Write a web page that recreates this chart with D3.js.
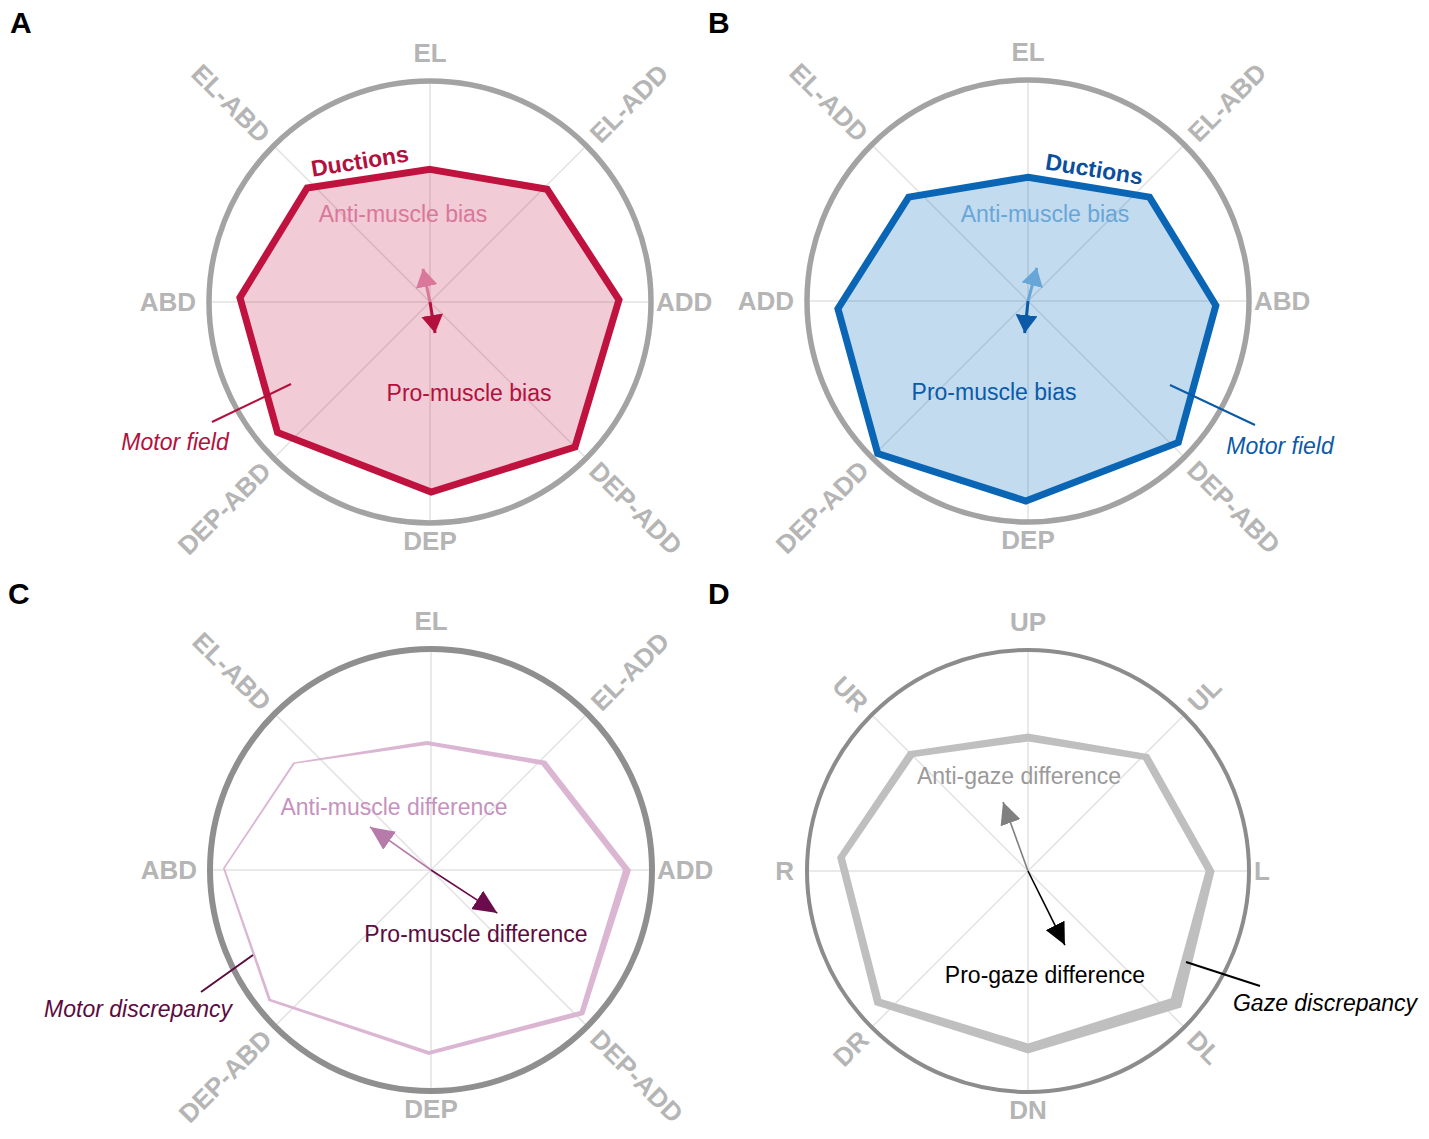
<!DOCTYPE html>
<html>
<head>
<meta charset="utf-8">
<script src="https://cdn.jsdelivr.net/npm/d3@7"></script>
<style>
  body { margin: 0; background: #fff; }
  svg { display: block; }
  text { font-family: "Liberation Sans", Arial, Helvetica, sans-serif; }
</style>
</head>
<body>
<div id="chart"></div>
<script>
// direction labels, clockwise from the top spoke
const dirsA = ["EL", "EL-ADD", "ADD", "DEP-ADD", "DEP", "DEP-ABD", "ABD", "EL-ABD"];
const dirsB = ["EL", "EL-ABD", "ABD", "DEP-ABD", "DEP", "DEP-ADD", "ADD", "EL-ADD"];
const dirsC = ["EL", "EL-ADD", "ADD", "DEP-ADD", "DEP", "DEP-ABD", "ABD", "EL-ABD"];
const dirsD = ["UP", "UL", "L", "DL", "DN", "DR", "R", "UR"];

// polygon vertices [x, y] in units of the outer ring radius (y up), same order as the labels
const ductionsA = [[0.00, 0.60], [0.53, 0.51], [0.855, 0.01], [0.656, -0.656],
                   [0.005, -0.86], [-0.69, -0.59], [-0.86, 0.02], [-0.556, 0.516]];
const ductionsB = [[0.00, 0.56], [0.55, 0.47], [0.85, -0.02], [0.68, -0.64],
                   [-0.01, -0.905], [-0.68, -0.69], [-0.86, -0.035], [-0.54, 0.47]];
const discrepancyC = [[-0.018, 0.575], [0.51, 0.485], [0.887, 0.0], [0.683, -0.647],
                      [-0.01, -0.828], [-0.73, -0.588], [-0.937, 0.008], [-0.62, 0.484]];
const discrepancyD = [[0.0, 0.604], [0.534, 0.516], [0.824, 0.0], [0.67, -0.597],
                      [0.0, -0.803], [-0.679, -0.593], [-0.846, 0.061], [-0.529, 0.529]];
// band thickness at each vertex (px)
const spreadC = [4, 6, 8, 6, 4, 3, 2, 2];
const spreadD = [8, 8, 9, 14, 10, 9, 8, 8];

// bias / difference vectors [x, y], ring radius units
const antiA = [-0.032, 0.15], proA = [0.023, -0.14];
const antiB = [0.04, 0.15],   proB = [-0.015, -0.145];
const antiC = [-0.276, 0.195], proC = [0.30, -0.195];
const antiD = [-0.113, 0.312], proD = [0.167, -0.335];

const W = 1429, H = 1139, R = 221;

const panels = [
  { key: "A", cx: 430, cy: 302, letter: [10, 33], dirs: dirsA, ring: "#a3a3a3", ringW: 5.5,
    pts: ductionsA, anti: antiA, pro: proA, line: "#bf123f", fill: "rgba(191,18,63,0.22)",
    antiColor: "#d9789b", proColor: "#b3103d", head: [18, 22], arrowW: 3,
    notes: [
      { t: "Ductions", x: -69, y: -133, rot: -9, bold: true, c: "#b3103d" },
      { t: "Anti-muscle bias", x: -27, y: -80, c: "#d9789b" },
      { t: "Pro-muscle bias", x: 39, y: 99, c: "#b3103d" },
      { t: "Motor field", x: -255, y: 148, it: true, c: "#b3103d" }],
    leader: [[-218, 120], [-139, 82]], leaderColor: "#b3103d" },
  { key: "B", cx: 1028, cy: 301, letter: [708, 33], dirs: dirsB, ring: "#a3a3a3", ringW: 5.5,
    pts: ductionsB, anti: antiB, pro: proB, line: "#0a66b5", fill: "rgba(10,110,190,0.25)",
    antiColor: "#68a6d8", proColor: "#0b5aa8", head: [18, 22], arrowW: 3,
    notes: [
      { t: "Ductions", x: 65, y: -124, rot: 9, bold: true, c: "#0b4f9c" },
      { t: "Anti-muscle bias", x: 17, y: -79, c: "#68a6d8" },
      { t: "Pro-muscle bias", x: -34, y: 99, c: "#0b5aa8" },
      { t: "Motor field", x: 252, y: 153, it: true, c: "#0b5aa8" }],
    leader: [[142, 84], [227, 124]], leaderColor: "#0b5aa8" },
  { key: "C", cx: 431, cy: 870, letter: [8, 604], dirs: dirsC, ring: "#8f8f8f", ringW: 6,
    band: discrepancyC, spread: spreadC, bandColor: "#dbb6d3",
    anti: antiC, pro: proC, antiColor: "#b67ba9", proColor: "#6a0c4b", head: [24, 22], arrowW: 1.6,
    notes: [
      { t: "Anti-muscle difference", x: -37, y: -55, c: "#c592bd" },
      { t: "Pro-muscle difference", x: 45, y: 72, c: "#5c0b3f" },
      { t: "Motor discrepancy", x: -293, y: 147, it: true, c: "#5c0b3f" }],
    leader: [[-230, 122], [-178, 85]], leaderColor: "#5c0b3f" },
  { key: "D", cx: 1028, cy: 871, letter: [708, 604], dirs: dirsD, ring: "#8c8c8c", ringW: 4,
    band: discrepancyD, spread: spreadD, bandColor: "#bfbfbf",
    anti: antiD, pro: proD, antiColor: "#808080", proColor: "#000", head: [22, 21], arrowW: 1.6,
    notes: [
      { t: "Anti-gaze difference", x: -9, y: -87, c: "#9a9a9a" },
      { t: "Pro-gaze difference", x: 17, y: 112, c: "#000" },
      { t: "Gaze discrepancy", x: 297, y: 140, it: true, c: "#000" }],
    leader: [[158, 91], [232, 115]], leaderColor: "#000" }
];

const svg = d3.select("#chart").append("svg")
  .attr("width", W).attr("height", H);
const defs = svg.append("defs");

const sx = d3.scaleLinear().domain([-1, 1]).range([-R, R]);
const sy = d3.scaleLinear().domain([-1, 1]).range([R, -R]);
const closed = d3.line().curve(d3.curveLinearClosed);

panels.forEach(p => {
  const g = svg.append("g").attr("transform", `translate(${p.cx},${p.cy})`);

  // panel letter
  svg.append("text").attr("x", p.letter[0]).attr("y", p.letter[1])
    .text(p.key).attr("font-size", 30).attr("font-weight", "bold").attr("fill", "#000");

  // spokes
  p.dirs.forEach((d, i) => {
    const a = i * Math.PI / 4;
    g.append("line").attr("x1", 0).attr("y1", 0)
      .attr("x2", R * Math.sin(a)).attr("y2", -R * Math.cos(a))
      .attr("stroke", "#e2e2e2").attr("stroke-width", 1.5);
  });

  // outer ring
  g.append("circle").attr("r", R).attr("fill", "none")
    .attr("stroke", p.ring).attr("stroke-width", p.ringW);

  // direction labels
  p.dirs.forEach((d, i) => {
    const a = i * Math.PI / 4;
    const t = g.append("text").text(d).attr("font-size", 26).attr("font-weight", "bold")
      .attr("fill", "#b5b5b5");
    if (i === 0) t.attr("text-anchor", "middle").attr("y", -R - 19);
    else if (i === 4) t.attr("text-anchor", "middle").attr("y", R + 27);
    else if (i === 2) t.attr("text-anchor", "start").attr("x", R + 5).attr("dy", "0.36em");
    else if (i === 6) t.attr("text-anchor", "end").attr("x", -R - 13).attr("dy", "0.36em");
    else {
      const r = R + 11;
      const x = r * Math.sin(a), y = -r * Math.cos(a);
      const rot = (i === 1 || i === 5) ? -45 : 45;
      t.attr("text-anchor", i < 4 ? "start" : "end").attr("dy", "0.36em")
        .attr("transform", `translate(${x},${y}) rotate(${rot})`);
    }
  });

  // motor field polygon
  if (p.pts) {
    g.append("path")
      .attr("d", closed(p.pts.map(v => [sx(v[0]), sy(v[1])])))
      .attr("fill", p.fill).attr("stroke", p.line).attr("stroke-width", 7)
      .attr("stroke-linejoin", "miter");
  }

  // discrepancy band between outer and inner outlines
  if (p.band) {
    const outer = [], inner = [];
    p.band.forEach((v, i) => {
      const x = sx(v[0]), y = sy(v[1]);
      const len = Math.hypot(x, y), h = p.spread[i] / 2;
      outer.push([x + x / len * h, y + y / len * h]);
      inner.push([x - x / len * h, y - y / len * h]);
    });
    g.append("path").attr("d", closed(outer) + closed(inner))
      .attr("fill", p.bandColor).attr("fill-rule", "evenodd");
  }

  // bias arrows
  [["anti", p.anti, p.antiColor], ["pro", p.pro, p.proColor]].forEach(([k, v, c]) => {
    const id = `head-${p.key}-${k}`;
    defs.append("marker").attr("id", id)
      .attr("viewBox", "0 0 10 10").attr("refX", 10).attr("refY", 5)
      .attr("preserveAspectRatio", "none")
      .attr("markerUnits", "userSpaceOnUse")
      .attr("markerWidth", p.head[0]).attr("markerHeight", p.head[1])
      .attr("orient", "auto")
      .append("path").attr("d", "M0,0 L10,5 L0,10 Z").attr("fill", c);
    g.append("line").attr("x1", 0).attr("y1", 0)
      .attr("x2", sx(v[0])).attr("y2", sy(v[1]))
      .attr("stroke", c).attr("stroke-width", p.arrowW)
      .attr("marker-end", `url(#${id})`);
  });

  // annotations
  p.notes.forEach(n => {
    g.append("text").text(n.t)
      .attr("text-anchor", "middle").attr("font-size", 23)
      .attr("font-weight", n.bold ? "bold" : "normal")
      .attr("font-style", n.it ? "italic" : "normal")
      .attr("fill", n.c)
      .attr("transform", `translate(${n.x},${n.y})` + (n.rot ? ` rotate(${n.rot})` : ""));
  });

  g.append("line")
    .attr("x1", p.leader[0][0]).attr("y1", p.leader[0][1])
    .attr("x2", p.leader[1][0]).attr("y2", p.leader[1][1])
    .attr("stroke", p.leaderColor).attr("stroke-width", 2);
});
</script>
</body>
</html>
